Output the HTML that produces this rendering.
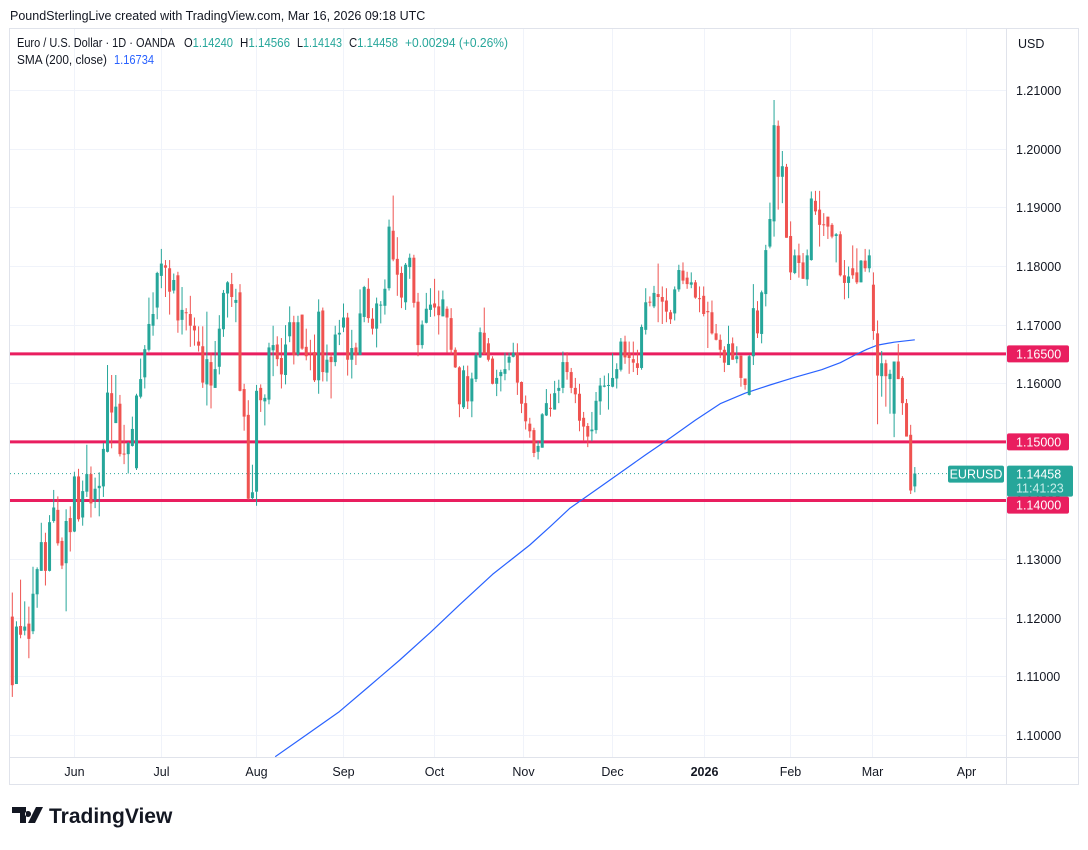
<!DOCTYPE html>
<html><head><meta charset="utf-8">
<style>
html,body{margin:0;padding:0;background:#fff;}
body{width:1088px;height:845px;overflow:hidden;font-family:"Liberation Sans",sans-serif;}
svg text{font-family:"Liberation Sans",sans-serif;}
</style></head>
<body>
<svg id="chart" width="1088" height="845" viewBox="0 0 1088 845" xmlns="http://www.w3.org/2000/svg">
<text x="10" y="20" font-size="12.5" fill="#131722">PoundSterlingLive created with TradingView.com, Mar 16, 2026 09:18 UTC</text>
<rect x="9.5" y="28.5" width="1069" height="756" fill="#fff" stroke="#e0e3eb"/>
<g id="grid"></g>
<g id="levels"></g>
<g id="sma"></g>
<g id="candles"></g>
<line x1="1006.5" y1="29" x2="1006.5" y2="784" stroke="#e0e3eb"/>
<line x1="10" y1="757.5" x2="1078" y2="757.5" stroke="#e0e3eb"/>
<g id="yaxis"></g>
<g id="xaxis"></g>
<g font-size="12.5" fill="#131722">
<text x="17" y="47" textLength="158" lengthAdjust="spacingAndGlyphs">Euro / U.S. Dollar · 1D · OANDA</text>
<text x="184" y="47" textLength="49" lengthAdjust="spacingAndGlyphs">O<tspan fill="#26a69a">1.14240</tspan></text>
<text x="240" y="47" textLength="50" lengthAdjust="spacingAndGlyphs">H<tspan fill="#26a69a">1.14566</tspan></text>
<text x="297" y="47" textLength="45" lengthAdjust="spacingAndGlyphs">L<tspan fill="#26a69a">1.14143</tspan></text>
<text x="349" y="47" textLength="49" lengthAdjust="spacingAndGlyphs">C<tspan fill="#26a69a">1.14458</tspan></text>
<text x="405" y="47" fill="#26a69a" textLength="103" lengthAdjust="spacingAndGlyphs">+0.00294 (+0.26%)</text>
<text x="17" y="64" textLength="90" lengthAdjust="spacingAndGlyphs">SMA (200, close)</text>
<text x="114" y="64" fill="#2962ff" textLength="40" lengthAdjust="spacingAndGlyphs">1.16734</text>
</g>
<text x="1018" y="48" font-size="12.5" fill="#131722">USD</text>
<g>
<path d="M12 807 h14 v16 h-6 v-10 h-8 z M28 811 a3 3 0 1 0 0.1 0 z M36 807 h7 l-8 16 h-7 z" fill="#131722"/>
<text x="49" y="823" font-size="21" font-weight="bold" fill="#131722">TradingView</text>
</g>
</svg>
<script>
const opens=[1.1202,1.1087,1.1186,1.1178,1.1190,1.1177,1.1240,1.1280,1.1329,1.1280,1.1365,1.1384,1.1331,1.1293,1.1370,1.1347,1.1441,1.1371,1.1415,1.1445,1.1401,1.1421,1.1424,1.1483,1.1583,1.1532,1.1565,1.1480,1.1479,1.1493,1.1455,1.1577,1.1610,1.1657,1.1698,1.1729,1.1783,1.1801,1.1796,1.1758,1.1784,1.1708,1.1721,1.1718,1.1698,1.1671,1.1663,1.1598,1.1636,1.1592,1.1628,1.1692,1.1753,1.1769,1.1737,1.1755,1.1590,1.1546,1.1404,1.1415,
1.1592,1.1569,1.1572,1.1656,1.1666,1.1643,1.1614,1.1680,1.1704,1.1649,1.1717,1.1662,1.1652,1.1653,1.1605,1.1724,1.1618,1.1645,1.1636,1.1683,1.1695,1.1712,1.1640,1.1661,1.1648,1.1713,1.1761,1.1710,1.1693,1.1733,1.1732,1.1762,1.1860,1.1812,1.1788,1.1738,1.1798,1.1814,1.1739,1.1665,1.1703,1.1725,1.1736,1.1731,1.1714,1.1727,1.1711,1.1657,1.1627,1.1559,1.1612,1.1569,1.1607,1.1644,1.1686,1.1668,1.1642,1.1599,1.1612,1.1616,1.1635,1.1645,1.1652,1.1602,1.1566,1.1531,1.1520,1.1483,1.1490,1.1545,1.1558,1.1555,1.1587,1.1592,1.1636,1.1619,1.1592,1.1582,
1.1541,1.1527,1.1518,1.1520,1.1569,1.1594,1.1596,1.1594,1.1608,1.1623,1.1671,1.1651,1.1641,1.1634,1.1626,1.1691,1.1739,1.1731,1.1752,1.1747,1.1741,1.1721,1.1719,1.1760,1.1792,1.1780,1.1768,1.1772,1.1745,1.1749,1.1723,1.1721,1.1685,1.1674,1.1657,1.1631,1.1668,1.1641,1.1647,1.1608,1.1580,1.1646,1.1724,1.1684,1.1752,1.1833,1.1876,1.2039,1.1952,1.1969,1.1851,1.1788,1.1818,1.1806,1.1777,1.1810,1.1911,1.1896,1.1871,1.1884,1.1870,1.1851,1.1854,1.1784,1.1771,1.1796,1.1789,1.1772,1.1809,1.1796,1.1768,1.1685,1.1612,1.1634,1.1607,1.1548,1.1637,1.1609,1.1566,1.1512,1.1424];
const highs=[1.1243,1.1194,1.1265,1.1228,1.1219,1.1287,1.1286,1.1362,1.1345,1.1375,1.1418,1.1407,1.1337,1.1385,1.1390,1.1449,1.1454,1.1434,1.1495,1.1458,1.1439,1.1448,1.1498,1.1631,1.1614,1.1614,1.1580,1.1529,1.1500,1.1543,1.1582,1.1642,1.1665,1.1746,1.1755,1.1790,1.1829,1.1810,1.1810,1.1787,1.1790,1.1764,1.1728,1.1749,1.1712,1.1697,1.1697,1.1722,1.1651,1.1672,1.1716,1.1759,1.1774,1.1788,1.1761,1.1769,1.1599,1.1571,1.1461,1.1597,
1.1598,1.1581,1.1669,1.1698,1.1680,1.1677,1.1699,1.1731,1.1715,1.1715,1.1717,1.1693,1.1674,1.1683,1.1743,1.1729,1.1666,1.1652,1.1698,1.1708,1.1736,1.1720,1.1691,1.1669,1.1760,1.1766,1.1779,1.1728,1.1746,1.1740,1.1777,1.1879,1.1920,1.1849,1.1799,1.1805,1.1821,1.1819,1.1754,1.1707,1.1754,1.1762,1.1778,1.1758,1.1758,1.1731,1.1728,1.1661,1.1629,1.1630,1.1630,1.1618,1.1652,1.1695,1.1729,1.1677,1.1646,1.1623,1.1623,1.1652,1.1652,1.1669,1.1668,1.1603,1.1579,1.1541,1.1524,1.1501,1.1549,1.1590,1.1582,1.1604,1.1606,1.1654,1.1653,1.1626,1.1609,1.1599,
1.1551,1.1532,1.1551,1.1585,1.1609,1.1613,1.1617,1.1651,1.1634,1.1677,1.1681,1.1671,1.1671,1.1657,1.1700,1.1762,1.1748,1.1766,1.1804,1.1765,1.1762,1.1725,1.1765,1.1802,1.1806,1.1790,1.1789,1.1776,1.1765,1.1765,1.1739,1.1741,1.1701,1.1683,1.1663,1.1698,1.1678,1.1663,1.1647,1.1608,1.1648,1.1769,1.1740,1.1758,1.1836,1.1908,1.2083,1.2048,1.1996,1.1974,1.1876,1.1828,1.1838,1.1822,1.1828,1.1927,1.1928,1.1928,1.1890,1.1884,1.1873,1.1856,1.1859,1.1810,1.1799,1.1835,1.1830,1.1810,1.1829,1.1828,1.1789,1.1707,1.1655,1.1640,1.1623,1.1637,1.1667,1.1612,1.1573,1.1529,1.1457];
const lows=[1.1065,1.1089,1.1165,1.1170,1.1131,1.1172,1.1217,1.1280,1.1255,1.1279,1.1362,1.1323,1.1283,1.1211,1.1313,1.1346,1.1364,1.1357,1.1406,1.1371,1.1387,1.1373,1.1406,1.1482,1.1489,1.1532,1.1475,1.1462,1.1446,1.1492,1.1452,1.1574,1.1591,1.1654,1.1681,1.1709,1.1762,1.1747,1.1717,1.1753,1.1686,1.1683,1.1690,1.1662,1.1664,1.1654,1.1592,1.1562,1.1557,1.1592,1.1615,1.1679,1.1712,1.1730,1.1704,1.1586,1.1519,1.1401,1.1401,1.1391,
1.1551,1.1528,1.1564,1.1612,1.1629,1.1591,1.1598,1.1670,1.1632,1.1646,1.1657,1.1639,1.1622,1.1602,1.1582,1.1603,1.1603,1.1574,1.1629,1.1665,1.1687,1.1613,1.1608,1.1631,1.1648,1.1704,1.1703,1.1683,1.1661,1.1702,1.1717,1.1758,1.1808,1.1749,1.1728,1.1725,1.1778,1.1729,1.1646,1.1659,1.1702,1.1713,1.1714,1.1683,1.1714,1.1652,1.1649,1.1626,1.1542,1.1556,1.1556,1.1542,1.1602,1.1643,1.1649,1.1637,1.1598,1.1578,1.1586,1.1605,1.1622,1.1644,1.1580,1.1549,1.1521,1.1507,1.1474,1.1470,1.1490,1.1544,1.1543,1.1555,1.1566,1.1583,1.1606,1.1583,1.1566,1.1518,
1.1501,1.1491,1.1501,1.1514,1.1546,1.1593,1.1555,1.1593,1.1591,1.1620,1.1633,1.1616,1.1619,1.1614,1.1623,1.1683,1.1731,1.1728,1.1704,1.1701,1.1704,1.1701,1.1707,1.1756,1.1769,1.1761,1.1762,1.1744,1.1721,1.1714,1.1660,1.1683,1.1673,1.1643,1.1619,1.1631,1.1640,1.1634,1.1594,1.1589,1.1579,1.1631,1.1677,1.1668,1.1731,1.1830,1.1850,1.1896,1.1907,1.1848,1.1776,1.1786,1.1780,1.1778,1.1766,1.1809,1.1887,1.1833,1.1851,1.1846,1.1847,1.1806,1.1782,1.1743,1.1745,1.1778,1.1769,1.1772,1.1790,1.1789,1.1674,1.1530,1.1577,1.1560,1.1548,1.1508,1.1607,1.1546,1.1509,1.1411,1.1414];
const closes=[1.1085,1.1185,1.1171,1.1185,1.1164,1.1241,1.1283,1.1329,1.1280,1.1363,1.1388,1.1327,1.1289,1.1365,1.1346,1.1441,1.1368,1.1416,1.1445,1.1395,1.1420,1.1425,1.1488,1.1584,1.1550,1.1560,1.1479,1.1479,1.1498,1.1522,1.1579,1.1607,1.1658,1.1701,1.1718,1.1788,1.1804,1.1797,1.1756,1.1776,1.1707,1.1725,1.1720,1.1698,1.1690,1.1664,1.1601,1.1641,1.1596,1.1624,1.1693,1.1754,1.1772,1.1747,1.1742,1.1587,1.1543,1.1403,1.1414,1.1587,
1.1571,1.1575,1.1661,1.1665,1.1641,1.1615,1.1666,1.1704,1.1648,1.1704,1.1659,1.1646,1.1651,1.1605,1.1722,1.1619,1.1640,1.1636,1.1683,1.1686,1.1712,1.1640,1.1660,1.1648,1.1719,1.1764,1.1711,1.1693,1.1736,1.1734,1.1761,1.1867,1.1811,1.1785,1.1746,1.1802,1.1814,1.1737,1.1665,1.1700,1.1727,1.1734,1.1729,1.1716,1.1743,1.1712,1.1657,1.1627,1.1564,1.1622,1.1569,1.1608,1.1648,1.1687,1.1650,1.1640,1.1599,1.1609,1.1619,1.1624,1.1645,1.1652,1.1601,1.1565,1.1535,1.1518,1.1481,1.1493,1.1547,1.1566,1.1557,1.1583,1.1592,1.1636,1.1619,1.1592,1.1581,1.1536,
1.1526,1.1509,1.1521,1.1570,1.1596,1.1596,1.1597,1.1609,1.1624,1.1671,1.1644,1.1643,1.1635,1.1626,1.1696,1.1738,1.1738,1.1754,1.1747,1.1739,1.1722,1.1709,1.1760,1.1793,1.1775,1.1769,1.1772,1.1746,1.1744,1.1718,1.1721,1.1685,1.1674,1.1657,1.1635,1.1667,1.1640,1.1646,1.1609,1.1597,1.1646,1.1728,1.1685,1.1755,1.1827,1.1880,1.2040,1.1952,1.1970,1.1848,1.1789,1.1818,1.1805,1.1778,1.1818,1.1915,1.1893,1.1870,1.1870,1.1867,1.1850,1.1854,1.1784,1.1771,1.1782,1.1784,1.1772,1.1809,1.1796,1.1818,1.1689,1.1613,1.1634,1.1612,1.1616,1.1637,1.1607,1.1566,1.1509,1.1417,1.1446];
const smaIndex=[63.5,71,79,86,93.6,101,108,116,125,130,134.7,141,146.8,153,159,165,171,177,183,189,195.5,200,203.5,206.5,209,213,218];
const smaValues=[1.0963,1.1000,1.1040,1.1082,1.1128,1.1175,1.1222,1.1274,1.1324,1.1356,1.1387,1.1418,1.1447,1.1478,1.1507,1.1537,1.1565,1.1583,1.1597,1.1610,1.1623,1.1635,1.1648,1.1658,1.1665,1.1670,1.1674];
const priceTicks=[1.10,1.11,1.12,1.13,1.14,1.15,1.16,1.17,1.18,1.19,1.20,1.21];
const levelPrices=[1.165,1.15,1.14];
const monthLabels=["Jun","Jul","Aug","Sep","Oct","Nov","Dec","2026","Feb","Mar","Apr"];
const monthIndex=[14.9,35.9,58.9,79.9,101.9,123.4,144.9,167.1,187.8,207.6,230.3];
const lastPrice=1.14458;

const NS="http://www.w3.org/2000/svg";
const PLOT_L=10,PLOT_R=1006,PLOT_T=29,PLOT_B=757;
function xS(i){return 12.3+i*4.14;}
function yS(p){return 90+(1.21-p)/0.01*58.64;}
function mk(tag,attrs,parent){const e=document.createElementNS(NS,tag);for(const k in attrs)e.setAttribute(k,attrs[k]);parent.appendChild(e);return e;}

const grid=document.getElementById('grid'),yaxis=document.getElementById('yaxis'),xaxis=document.getElementById('xaxis');
priceTicks.forEach(p=>{
  const y=Math.round(yS(p))+0.5;
  const g=mk('line',{x1:PLOT_L,x2:PLOT_R,y1:y,y2:y,stroke:'#f0f3fa','stroke-width':1},grid);
  
  
  const t=mk('text',{x:1016,y:y+4.5,'font-size':12.5,fill:'#131722'},yaxis);
  
  
  t.textContent=p.toFixed(5);
});
monthLabels.forEach((m,k)=>{
  const x=Math.round(xS(monthIndex[k]))+0.5;
  const g=mk('line',{x1:x,x2:x,y1:PLOT_T,y2:PLOT_B,stroke:'#f0f3fa','stroke-width':1},grid);
  
  
  const t=mk('text',{x:x,y:776,'font-size':12.5,fill:'#131722','text-anchor':'middle','font-weight':m==='2026'?'bold':'normal'},xaxis);
  
  
  t.textContent=m;
});

const lv=document.getElementById('levels');
const lastY=yS(lastPrice);
const lastBoxBottom=lastY-8+31;
{
  const d=mk('line',{x1:PLOT_L,x2:PLOT_R,y1:lastY,y2:lastY,stroke:'#26a69a','stroke-width':1,'stroke-dasharray':'1 3'},lv);
  
  
  const r1=mk('rect',{x:948,y:lastY-8,width:56,height:17,rx:2,fill:'#26a69a'},yaxis);
  
  
  const t1=mk('text',{x:976,y:lastY+5,'font-size':12.5,fill:'#fff','text-anchor':'middle'},yaxis);
  
  
  t1.textContent='EURUSD';
  const r2=mk('rect',{x:1007,y:lastY-8,width:66,height:31,rx:2,fill:'#26a69a'},yaxis);
  
  
  const t2=mk('text',{x:1016,y:lastY+5,'font-size':12.5,fill:'#fff'},yaxis);
  
  
  t2.textContent=lastPrice.toFixed(5);
  const t3=mk('text',{x:1016,y:lastY+19,'font-size':12.5,fill:'#c8ede9'},yaxis);
  
  
  t3.textContent='11:41:23';
}
levelPrices.forEach(p=>{
  const y=yS(p);
  const l=mk('line',{x1:PLOT_L,x2:PLOT_R,y1:y,y2:y,stroke:'#e91e5f','stroke-width':3},lv);
  
  
  let top=y-8.5;
  if(top<lastBoxBottom && top+17>lastY-8) top=lastBoxBottom;
  const r=mk('rect',{x:1007,y:top,width:62,height:17,rx:2,fill:'#e91e5f'},yaxis);
  
  
  const t=mk('text',{x:1016,y:top+13,'font-size':12.5,fill:'#fff'},yaxis);
  
  
  t.textContent=p.toFixed(5);
});

const sg=document.getElementById('sma');
const cp=mk('clipPath',{id:'plotclip'},sg);
mk('rect',{x:PLOT_L,y:PLOT_T,width:PLOT_R-PLOT_L,height:PLOT_B-PLOT_T},cp);
const pts=smaIndex.map((i,k)=>xS(i).toFixed(1)+','+yS(smaValues[k]).toFixed(1)).join(' ');
const pl=mk('polyline',{points:pts,fill:'none',stroke:'#2962ff','stroke-width':1.2,'stroke-linejoin':'round','clip-path':'url(#plotclip)'},sg);



const cg=document.getElementById('candles');
closes.forEach((c,i)=>{
  const o=opens[i],h=highs[i],l=lows[i];
  const up=c>=o,col=up?'#26a69a':'#ef5350';
  const x=xS(i);
  const g=mk('g',{},cg);
  
  
  mk('line',{x1:x,x2:x,y1:yS(h),y2:yS(l),stroke:col,'stroke-width':1},g);
  const top=yS(Math.max(o,c)),bot=yS(Math.min(o,c));
  mk('rect',{x:x-1.5,y:top,width:3,height:Math.max(1,bot-top),fill:col},g);
});
</script>
</body></html>
